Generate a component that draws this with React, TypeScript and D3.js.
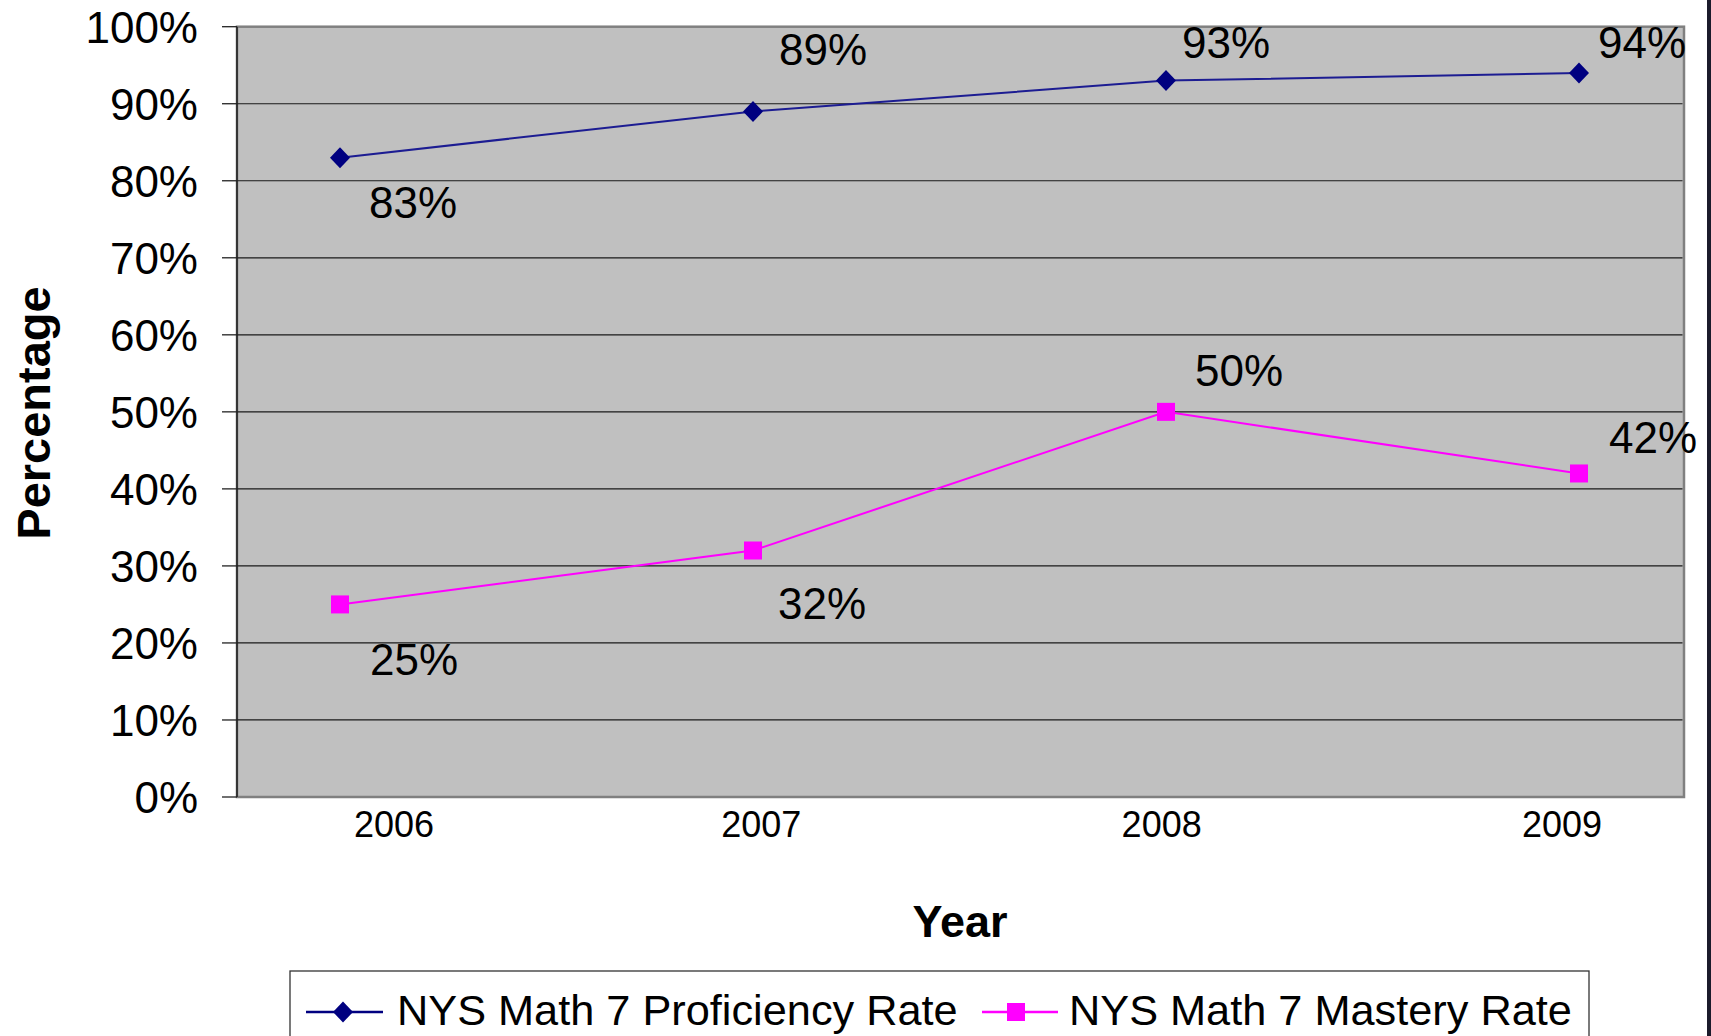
import React from "react";
import * as d3 from "d3";

// ---- data ----
const years = ["2006", "2007", "2008", "2009"];
const proficiency = [0.83, 0.89, 0.93, 0.94];
const mastery = [0.25, 0.32, 0.5, 0.42];
const proficiencyLabels = ["83%", "89%", "93%", "94%"];
const masteryLabels = ["25%", "32%", "50%", "42%"];
const yTicks = [0, 0.1, 0.2, 0.3, 0.4, 0.5, 0.6, 0.7, 0.8, 0.9, 1.0];
const seriesNames = ["NYS Math 7 Proficiency Rate", "NYS Math 7 Mastery Rate"];

// ---- label placement (style) ----
const profLabelOffsets = [[29, 60], [26, -46], [16, -23], [19, -15]];
const mastLabelOffsets = [[30, 71], [25, 68], [29, -26], [30, -20]];
const xTickNudge = [0, -22, -11, 0];

const W = 1711;
const H = 1036;
const plot = { left: 237, right: 1684, top: 26.7, bottom: 797 };
const FONT = "'Liberation Sans', Arial, Helvetica, sans-serif";
const NAVY = "#000080";
const LINE_NAVY = "#1c1c92";
const MAGENTA = "#FF00FF";

const diamond = (x: number, y: number, hw = 10, hh = 10.5) =>
  `M${x},${y - hh}L${x + hw},${y}L${x},${y + hh}L${x - hw},${y}Z`;

export default function App() {
  const x = d3.scalePoint<string>().domain(years).range([340, 1579]);
  const xLab = d3.scalePoint<string>().domain(years).range([394, 1562]);
  const y = d3.scaleLinear().domain([0, 1]).range([plot.bottom, plot.top]);
  const fmt = d3.format(".0%");

  const line = d3
    .line<number>()
    .x((_, i) => x(years[i]) as number)
    .y((d) => y(d));

  return (
    <svg
      width={W}
      height={H}
      style={{ position: "absolute", left: 0, top: 0, display: "block", background: "#fff" }}
      fontFamily={FONT}
    >
      <rect x={0} y={0} width={W} height={H} fill="#fff" />
      {/* plot area */}
      <rect
        x={plot.left}
        y={plot.top}
        width={plot.right - plot.left}
        height={plot.bottom - plot.top}
        fill="#C0C0C0"
        stroke="#808080"
        strokeWidth={2.5}
      />
      {/* gridlines */}
      {yTicks.slice(1, -1).map((t) => (
        <line
          key={"g" + t}
          x1={plot.left}
          x2={plot.right - 1.5}
          y1={y(t)}
          y2={y(t)}
          stroke="#1a1a1a"
          strokeWidth={1.2}
        />
      ))}
      {/* left axis */}
      <line x1={plot.left} x2={plot.left} y1={plot.top} y2={plot.bottom} stroke="#222" strokeWidth={1.6} />
      {yTicks.map((t) => (
        <g key={"t" + t}>
          <line x1={222} x2={plot.left} y1={y(t)} y2={y(t)} stroke="#222" strokeWidth={1.3} />
          <text x={198} y={y(t) + 16} fontSize={44} textAnchor="end" fill="#000">
            {fmt(t)}
          </text>
        </g>
      ))}
      {/* x labels */}
      {years.map((yr, i) => (
        <text
          key={"x" + yr}
          x={(xLab(yr) as number) + xTickNudge[i]}
          y={837}
          fontSize={36}
          textAnchor="middle"
          fill="#000"
        >
          {yr}
        </text>
      ))}
      {/* axis titles */}
      <text
        transform={`translate(50, 413) rotate(-90)`}
        fontSize={47}
        fontWeight="bold"
        textAnchor="middle"
        fill="#000"
      >
        Percentage
      </text>
      <text x={960} y={937} fontSize={45} fontWeight="bold" textAnchor="middle" fill="#000">
        Year
      </text>
      {/* series lines */}
      <path d={line(proficiency) || ""} fill="none" stroke={LINE_NAVY} strokeWidth={2} />
      <path d={line(mastery) || ""} fill="none" stroke={MAGENTA} strokeWidth={2} />
      {/* markers */}
      {proficiency.map((v, i) => (
        <path key={"pm" + i} d={diamond(x(years[i]) as number, y(v))} fill={NAVY} />
      ))}
      {mastery.map((v, i) => (
        <rect
          key={"mm" + i}
          x={(x(years[i]) as number) - 9}
          y={y(v) - 9}
          width={18}
          height={18}
          fill={MAGENTA}
        />
      ))}
      {/* data labels */}
      {proficiency.map((v, i) => (
        <text
          key={"pl" + i}
          x={(x(years[i]) as number) + profLabelOffsets[i][0]}
          y={y(v) + profLabelOffsets[i][1]}
          fontSize={44}
          fill="#000"
        >
          {proficiencyLabels[i]}
        </text>
      ))}
      {mastery.map((v, i) => (
        <text
          key={"ml" + i}
          x={(x(years[i]) as number) + mastLabelOffsets[i][0]}
          y={y(v) + mastLabelOffsets[i][1]}
          fontSize={44}
          fill="#000"
        >
          {masteryLabels[i]}
        </text>
      ))}
      {/* legend */}
      <rect x={290} y={971} width={1299} height={120} fill="#fff" stroke="#333" strokeWidth={1.3} />
      <line x1={306} x2={383} y1={1012} y2={1012} stroke={NAVY} strokeWidth={2.5} />
      <path d={diamond(343, 1012)} fill={NAVY} />
      <text x={397} y={1025} fontSize={43.3} fill="#000">
        {seriesNames[0]}
      </text>
      <line x1={982} x2={1058} y1={1012} y2={1012} stroke={MAGENTA} strokeWidth={2.5} />
      <rect x={1016 - 9} y={1012 - 9} width={18} height={18} fill={MAGENTA} />
      <text x={1069} y={1025} fontSize={43.3} fill="#000">
        {seriesNames[1]}
      </text>
      {/* right dark edge */}
      <rect x={1707} y={0} width={4} height={H} fill="#1b1b2b" />
    </svg>
  );
}
